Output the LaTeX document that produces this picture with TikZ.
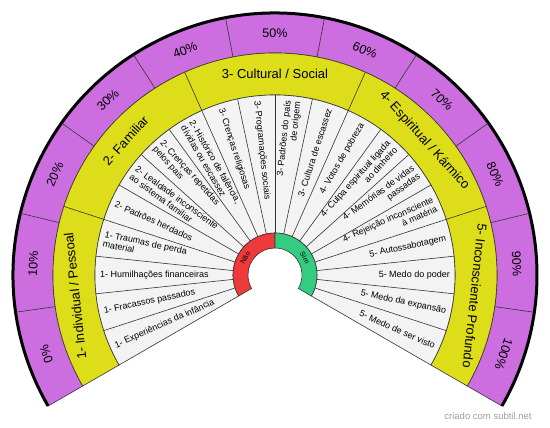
\documentclass[tikz,border=0pt]{standalone}
\usepackage{fontspec}
\setmainfont{Liberation Sans}
\usepackage{xcolor}
\usepackage{tikz}
\usetikzlibrary{calc}
\definecolor{roxo}{RGB}{204,110,224}
\definecolor{amarelo}{RGB}{221,221,26}
\definecolor{cinza}{RGB}{243,243,243}
\definecolor{vermelho}{RGB}{238,58,58}
\definecolor{verde}{RGB}{52,204,128}
\tikzset{
	borda/.style={draw=black!80,line width=0.6pt},
	pct/.style={font=\fontsize{12.5}{14}\selectfont,inner sep=0pt},
	cat/.style={font=\fontsize{13}{15}\selectfont,inner sep=0pt},
	item/.style={font=\fontsize{9}{9.8}\selectfont,inner sep=1pt},
	sn/.style={font=\fontsize{7}{8}\selectfont,inner sep=0pt}
}

\begin{document}
\begin{tikzpicture}[x=1pt,y=1pt]
				\def\rA{27}
				\def\rB{42}
				\def\rC{180}
				\def\rD{222}
				\def\rE{262}
				\def\ini{210}
				\def\fim{-30}
				\useasboundingbox (-275,-153) rectangle (275,275); % taille de l'image
				
				%Anneaux
				\filldraw[fill=roxo,borda] (\ini:\rE) arc[start angle=\ini,end angle=\fim,radius=\rE] -- (\fim:\rD) arc[start angle=\fim,end angle=\ini,radius=\rD] -- cycle;
				\filldraw[fill=amarelo,borda] (\ini:\rD) arc[start angle=\ini,end angle=\fim,radius=\rD] -- (\fim:\rC) arc[start angle=\fim,end angle=\ini,radius=\rC] -- cycle;
				\filldraw[fill=cinza,borda] (\ini:\rC) arc[start angle=\ini,end angle=\fim,radius=\rC] -- (\fim:\rB) arc[start angle=\fim,end angle=\ini,radius=\rB] -- cycle;
				\filldraw[fill=vermelho,borda] (\ini:\rB) arc[start angle=\ini,end angle=90,radius=\rB] -- (90:\rA) arc[start angle=90,end angle=\ini,radius=\rA] -- cycle;
				\filldraw[fill=verde,borda] (90:\rB) arc[start angle=90,end angle=\fim,radius=\rB] -- (\fim:\rA) arc[start angle=\fim,end angle=90,radius=\rA] -- cycle;
				
				%Bord extérieur
				\draw[line width=3pt,black] (\ini:\rE) arc[start angle=\ini,end angle=\fim,radius=\rE];
				
				%Rayons
				\foreach \i in {1,...,10}{
					\draw[borda] ({\ini-\i*240/11}:\rD) -- ({\ini-\i*240/11}:\rE);
				}
				\foreach \i in {1,...,4}{
					\draw[borda] ({\ini-48*\i}:\rC) -- ({\ini-48*\i}:\rD);
				}
				\foreach \i in {1,...,19}{
					\draw[borda] ({\ini-12*\i}:\rB) -- ({\ini-12*\i}:\rC);
				}
				
				%Pourcentages
				\foreach \p [count=\i from 0] in {0,10,...,100}{
					\pgfmathsetmacro\a{\ini-240/11*(\i+0.5)}
					\node[pct,rotate=\a-90] (p\i) at (\a:242) {\p\%};
				}
				
				%Niveaux
				\foreach \t [count=\i from 0] in {{1- Individual / Pessoal},{2- Familiar},{3- Cultural / Social},{4- Espiritual / Kármico},{5- Inconsciente Profundo}}{
					\pgfmathsetmacro\a{\ini-48*(\i+0.5)}
					\node[cat,rotate=\a-90] (n\i) at (\a:201) {\t};
				}
				
				%Items
				\foreach \t [count=\i from 0] in {
					{1- Experiências da infância},
					{1- Fracassos passados},
					{1- Humilhações financeiras},
					{1- Traumas de perda\\material},
					{2- Padrões herdados},
					{2- Lealdade inconsciente\\ao sistema familiar},
					{2- Crenças repetidas\\pelos pais},
					{2- Histórico de falência,\\dívidas ou escassez},
					{3- Crenças religiosas},
					{3- Programações sociais},
					{3- Padrões do país\\de origem},
					{3- Cultura de escassez},
					{4- Votos de pobreza},
					{4- Culpa espiritual ligada\\ao dinheiro},
					{4- Memórias de vidas\\passadas},
					{4- Rejeição inconsciente\\à matéria},
					{5- Autossabotagem},
					{5- Medo do poder},
					{5- Medo da expansão},
					{5- Medo de ser visto}}{
					\pgfmathtruncatemacro\a{204-12*\i}
					\ifnum\a>90
						\node[item,rotate=\a-180,anchor=west,align=left] (i\i) at (\a:176) {\t};
					\else
						\node[item,rotate=\a,anchor=east,align=right] (i\i) at (\a:176) {\t};
					\fi
				}
				
				%Non / Oui
				\node[sn,rotate=60] (nao) at (150:34.5) {Não};
				\node[sn,rotate=-60] (sim) at (30:34.5) {Sim};
				
				\node[font=\fontsize{9.5}{11}\selectfont,text=black!38,inner sep=0pt] (marca) at (213,-141) {criado com subtil.net};
				
\end{tikzpicture}
\end{document}
